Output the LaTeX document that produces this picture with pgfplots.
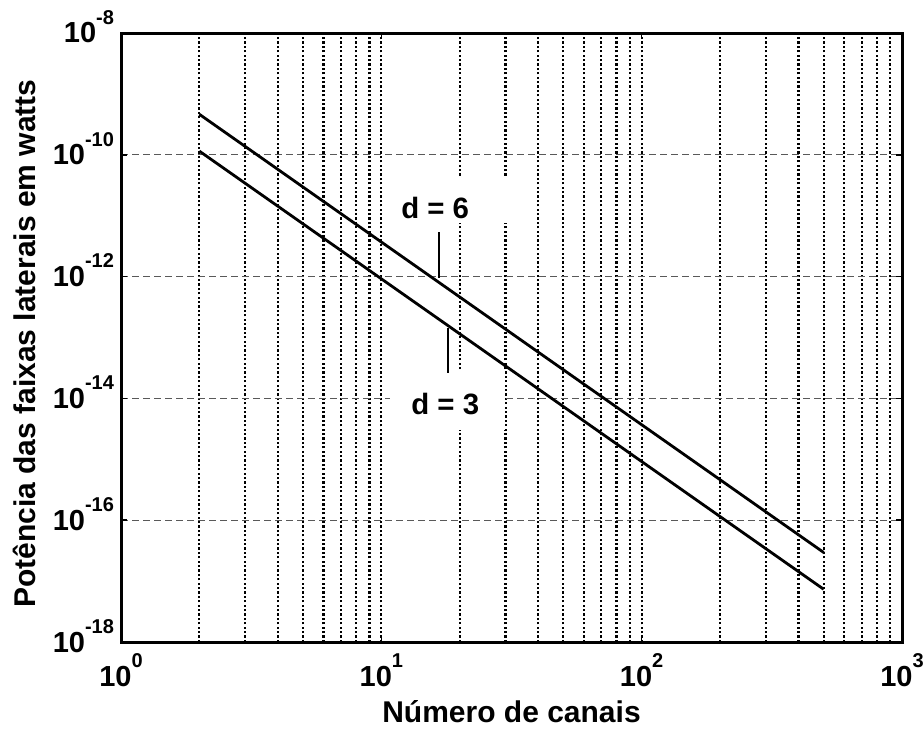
\documentclass[border=0pt]{standalone}
\usepackage{fontspec}
\setmainfont{Liberation Sans}
\usepackage{pgfplots}
\pgfplotsset{compat=1.18}
\newcommand{\mytick}[1]{\fontsize{14.5}{16}\selectfont\bfseries 10\raisebox{9.3pt}[0pt][0pt]{\fontsize{10}{11}\selectfont\bfseries #1}}
\begin{document}
\begin{tikzpicture}
\useasboundingbox (0,0) rectangle (462pt,364.5pt);
\begin{axis}[
  at={(60.5pt,43.5pt)}, anchor=south west,
  scale only axis, width=390.5pt, height=304.5pt,
  xmode=log, ymode=log,
  xmin=1, xmax=1000, ymin=1e-18, ymax=1e-8,
  xtick={1,10,100,1000},
  ytick={1e-18,1e-16,1e-14,1e-12,1e-10,1e-8},
  xticklabels={{\mytick{0}},{\mytick{1}},{\mytick{2}},{\mytick{3}}},
  yticklabels={{\mytick{-18}},{\mytick{-16}},{\mytick{-14}},{\mytick{-12}},{\mytick{-10}},{\mytick{-8}}},
  yminorticks=false,
  xmajorgrids=true, xminorgrids=true, ymajorgrids=true,
  major x grid style={black, line width=1.1pt, dash pattern=on 1.1pt off 1.1pt},
  minor x grid style={black, line width=1.1pt, dash pattern=on 1.1pt off 1.1pt},
  major y grid style={black!65, line width=0.5pt, dash pattern=on 3.5pt off 2pt},
  tick align=inside, major tick length=3pt, minor tick length=0pt,
  tick style={black, line width=0.8pt},
  axis line style={line width=1.5pt},
  tick label style={font=\fontsize{14.5}{16}\selectfont\bfseries},
  xticklabel style={anchor=north, yshift=-8.5pt},
  yticklabel style={anchor=east, xshift=0pt},
  xlabel={\textbf{Número de canais}},
  ylabel={\textbf{Potência das faixas laterais em watts}},
  label style={font=\fontsize{15}{17}\selectfont},
  xlabel style={at={(axis description cs:0.5,-0.1314)}, anchor=base},
  ylabel style={at={(axis description cs:-0.124,0.49)}, anchor=center},
]
\fill[white] (axis cs:10.8,4.16e-11) rectangle (axis cs:34.1,7.59e-12);
\fill[white] (axis cs:10.8,2.92e-14) rectangle (axis cs:29.9,3.03e-15);
\addplot[black, line width=1.4pt] coordinates {
  (2,4.63e-10) (5,2.96e-11) (10,3.7e-12) (20,4.63e-13) (50,2.96e-14)
  (100,3.7e-15) (200,4.63e-16) (500,2.96e-17)};
\addplot[black, line width=1.4pt] coordinates {
  (2,1.15e-10) (5,7.36e-12) (10,9.2e-13) (20,1.15e-13) (50,7.36e-15)
  (100,9.2e-16) (200,1.15e-16) (500,7.36e-18)};
\draw[black, line width=1.4pt] (axis cs:16.66,5.40e-12) -- (axis cs:16.66,9.48e-13);
\draw[black, line width=1.4pt] (axis cs:18.04,1.43e-13) -- (axis cs:18.04,2.61e-14);
\node[font=\fontsize{14.7}{17}\selectfont\bfseries] at (axis cs:16.1,1.34e-11) {d = 6};
\node[font=\fontsize{14.7}{17}\selectfont\bfseries] at (axis cs:17.6,8.09e-15) {d = 3};
\end{axis}
\end{tikzpicture}
\end{document}
